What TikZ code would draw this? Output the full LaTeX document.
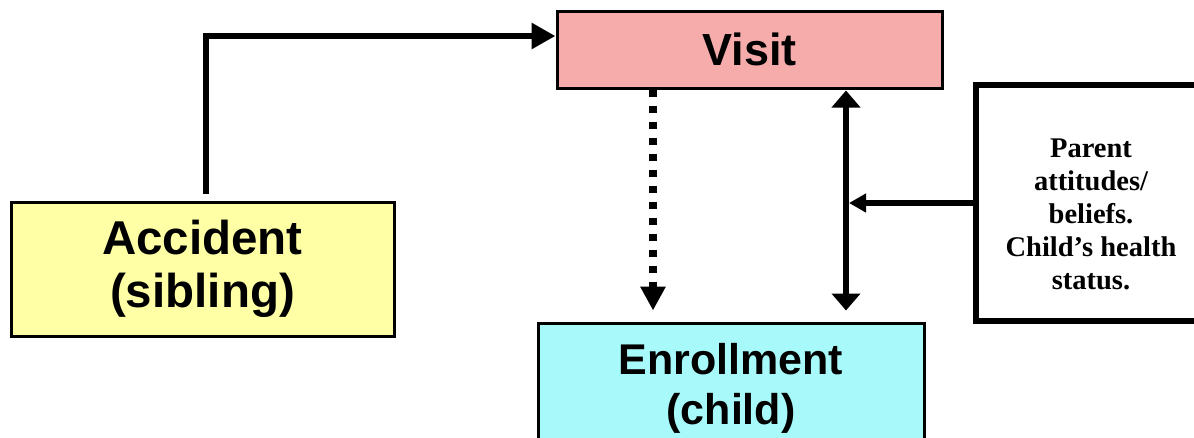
\documentclass[tikz,border=0pt]{standalone}
\usepackage{fontspec}
\setmainfont{Liberation Serif}
\setsansfont{Liberation Sans}
\usetikzlibrary{arrows.meta,positioning}

\definecolor{visitfill}{RGB}{247,172,172}
\definecolor{accidentfill}{RGB}{255,255,165}
\definecolor{enrollfill}{RGB}{168,250,250}

\begin{document}
\begin{tikzpicture}[x=1pt,y=-1pt,
    box/.style={draw,line width=3pt,inner sep=0pt,align=center,
      font=\sffamily\bfseries\fontsize{47.5}{53}\selectfont},
    factorbox/.style={draw,line width=6pt,inner sep=0pt},
    factortext/.style={align=center,inner sep=0pt,
      font=\rmfamily\bfseries\fontsize{28.5}{33}\selectfont},
    flow/.style={line width=6.5pt,-{Triangle[length=24pt,width=25pt]}},
    dotflow/.style={line width=7.5pt,dash pattern=on 7pt off 9pt,
      -{Triangle[length=24pt,width=24pt]}},
    both/.style={line width=6pt,{Triangle[length=17pt,width=28pt]}-{Triangle[length=17pt,width=28pt]}},
    push/.style={line width=6pt,-{Triangle[length=17pt,width=18pt]}}]

    \useasboundingbox (0,0) rectangle (1194,437);

    % boxes
    \node[box,fill=visitfill,minimum width=385pt,minimum height=77pt,
      font=\sffamily\bfseries\fontsize{45}{53}\selectfont] (visit) at (749.5,49.5) {Visit};
    \node[box,fill=accidentfill,minimum width=383pt,minimum height=134pt] (accident) at (202.5,269) {Accident\\(sibling)};
    \node[box,fill=enrollfill,minimum width=386pt,minimum height=130pt,
      font=\sffamily\bfseries\fontsize{43}{50}\selectfont] (enroll) at (731,388) {Enrollment\\(child)};
    \node[factorbox,minimum width=230pt,minimum height=236pt] (factors) at (1091,203) {};
    \node[factortext] (factorlabel) at ([yshift=-11pt]factors.center) {Parent\\attitudes/\\beliefs.\\Child’s health\\status.};

    \coordinate (dotx) at ([xshift=-96.5pt]visit.south);
    \coordinate (dblx) at ([xshift=96.5pt]visit.south);

    % arrows
    \draw[flow,shorten <=7pt] ([xshift=3.5pt]accident.north) |- ([yshift=13.5pt]visit.west);
    \draw[dotflow] (dotx) -- ([yshift=11pt]dotx |- enroll.north);
    \draw[both,shorten <=1pt] (dblx) -- ([yshift=11pt]dblx |- enroll.north);
    \draw[push] (factors.west) -- ([xshift=3pt]dblx |- factors.west);
\end{tikzpicture}
\end{document}
